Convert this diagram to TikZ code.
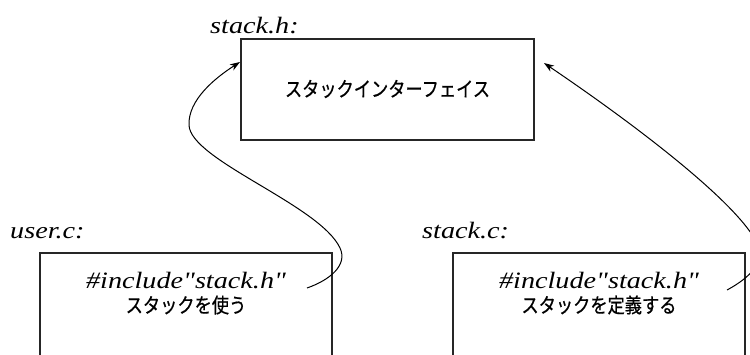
\documentclass[tikz,border=0pt]{standalone}
\usepackage{fontspec}
\setmainfont{Liberation Serif}
\newfontfamily\jpfont[FakeStretch=0.84,FakeBold=0.6]{Noto Sans CJK JP}
\newfontfamily\codefont[FakeStretch=1.2]{Liberation Serif}
\usetikzlibrary{arrows.meta}
\begin{document}
\begin{tikzpicture}[x=1pt,y=-1pt,
  filebox/.style={draw=black!85,line width=1.3pt},
  filename/.style={anchor=base west,inner sep=0pt,font=\codefont\itshape\fontsize{23.5}{27}\selectfont},
  codeline/.style={anchor=base,inner sep=0pt,font=\codefont\itshape\fontsize{23.5}{27}\selectfont},
  jptext/.style={inner sep=0pt,font=\jpfont\fontsize{20.5}{24}\selectfont},
  incl/.style={line width=1pt,-{Stealth[length=10pt,width=7pt,inset=3pt]}}]
\useasboundingbox (0,0) rectangle (750,354);
\clip (0,0) rectangle (750,354);

% header file
\node[filename] (hlabel) at (210,33) {stack.h:};
\draw[filebox] (241,39) rectangle (534,140);
\node[jptext] (iface) at (387.5,89) {スタックインターフェイス};

% client source
\node[filename] (ulabel) at (10,238) {user.c:};
\draw[filebox] (40,253) rectangle (332,380);
\node[codeline] (uinc) at (186,288) {\#include"stack.h"};
\node[jptext] (uuse) at (186,305) {スタックを使う};

% implementation source
\node[filename] (slabel) at (422,238) {stack.c:};
\draw[filebox] (453,253) rectangle (745,380);
\node[codeline] (sinc) at (599,288) {\#include"stack.h"};
\node[jptext] (sdef) at (599,305) {スタックを定義する};

% include arrows
\coordinate (ufrom) at (307,288);
\coordinate (uto) at (240,62);
\coordinate (sfrom) at (727,290);
\coordinate (sto) at (544,63);

\draw[incl] (ufrom) .. controls (330,280) and (348,265) .. (340,248)
  .. controls (320,205) and (190,160) .. (189,125)
  .. controls (188,100) and (215,78) .. (uto);
\draw[incl] (sfrom) .. controls (742,282) and (767,265) .. (758,245)
  .. controls (740,205) and (640,128) .. (sto);
\end{tikzpicture}
\end{document}
